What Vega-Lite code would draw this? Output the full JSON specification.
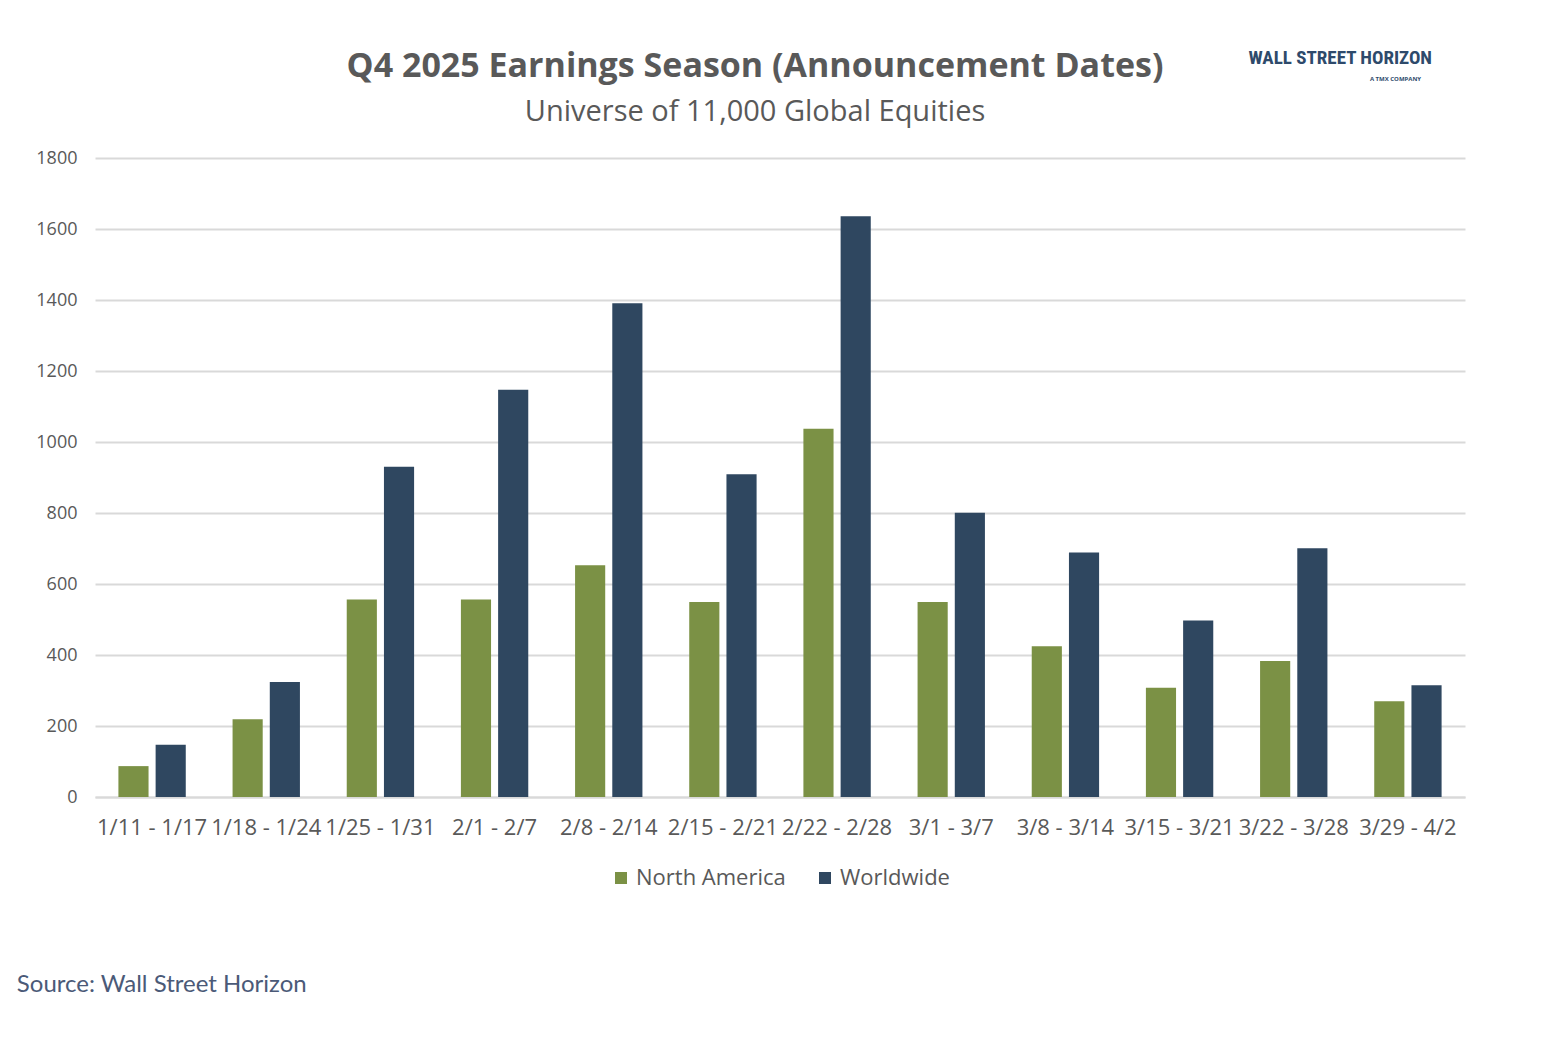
{
  "$schema": "https://vega.github.io/schema/vega-lite/v6.json",
  "background": "white",
  "padding": {"left": 16, "top": 48, "right": 10, "bottom": 10},
  "title": {
    "text": "Source: Wall Street Horizon",
    "orient": "bottom",
    "anchor": "start",
    "dx": -19,
    "offset": 84,
    "font": "Lato",
    "fontSize": 24,
    "fontWeight": "normal",
    "color": "#4b5a78"
  },
  "vconcat": [
    {
      "width": 1370,
      "height": 639,
      "title": {
        "text": "Q4 2025 Earnings Season (Announcement Dates)",
        "subtitle": "Universe of 11,000 Global Equities",
        "anchor": "middle",
        "dx": -25,
        "offset": -79,
        "font": "Open Sans",
        "fontSize": 34,
        "fontWeight": "bold",
        "color": "#595959",
        "subtitleFont": "Open Sans",
        "subtitleFontSize": 29,
        "subtitleColor": "#595959",
        "subtitlePadding": 14
      },
      "data": {
        "values": [
          {"week": "1/11 - 1/17", "region": "North America", "count": 87},
          {"week": "1/11 - 1/17", "region": "Worldwide", "count": 147},
          {"week": "1/18 - 1/24", "region": "North America", "count": 219},
          {"week": "1/18 - 1/24", "region": "Worldwide", "count": 324},
          {"week": "1/25 - 1/31", "region": "North America", "count": 556},
          {"week": "1/25 - 1/31", "region": "Worldwide", "count": 930},
          {"week": "2/1 - 2/7", "region": "North America", "count": 556},
          {"week": "2/1 - 2/7", "region": "Worldwide", "count": 1147},
          {"week": "2/8 - 2/14", "region": "North America", "count": 653},
          {"week": "2/8 - 2/14", "region": "Worldwide", "count": 1391},
          {"week": "2/15 - 2/21", "region": "North America", "count": 549},
          {"week": "2/15 - 2/21", "region": "Worldwide", "count": 909},
          {"week": "2/22 - 2/28", "region": "North America", "count": 1037},
          {"week": "2/22 - 2/28", "region": "Worldwide", "count": 1636},
          {"week": "3/1 - 3/7", "region": "North America", "count": 549},
          {"week": "3/1 - 3/7", "region": "Worldwide", "count": 801},
          {"week": "3/8 - 3/14", "region": "North America", "count": 425},
          {"week": "3/8 - 3/14", "region": "Worldwide", "count": 689},
          {"week": "3/15 - 3/21", "region": "North America", "count": 308},
          {"week": "3/15 - 3/21", "region": "Worldwide", "count": 497},
          {"week": "3/22 - 3/28", "region": "North America", "count": 383},
          {"week": "3/22 - 3/28", "region": "Worldwide", "count": 701},
          {"week": "3/29 - 4/2", "region": "North America", "count": 270},
          {"week": "3/29 - 4/2", "region": "Worldwide", "count": 315}
        ]
      },
      "mark": {"type": "bar"},
      "encoding": {
        "x": {
          "field": "week",
          "type": "nominal",
          "sort": null,
          "scale": {"paddingInner": 0.41, "paddingOuter": 0.205},
          "axis": {
            "labelAngle": 0,
            "labelFont": "Open Sans",
            "labelFontSize": 22,
            "labelColor": "#595959",
            "labelPadding": 20,
            "ticks": false,
            "domainColor": "#d9d9d9",
            "domainWidth": 2,
            "title": "A TMX COMPANY",
            "titleFont": "Open Sans",
            "titleFontSize": 6,
            "titleFontWeight": "bold",
            "titleColor": "#2e4a6b",
            "titleX": 1300,
            "titleY": -719,
            "titleAlign": "center",
            "titleBaseline": "middle"
          }
        },
        "xOffset": {
          "field": "region",
          "type": "nominal",
          "sort": ["North America", "Worldwide"],
          "scale": {"paddingInner": 0.19}
        },
        "y": {
          "field": "count",
          "type": "quantitative",
          "scale": {"domain": [0, 1800]},
          "axis": {
            "values": [0, 200, 400, 600, 800, 1000, 1200, 1400, 1600, 1800],
            "format": "d",
            "labelFont": "Open Sans",
            "labelFontSize": 18,
            "labelColor": "#595959",
            "labelPadding": 18,
            "ticks": false,
            "domain": false,
            "gridColor": "#d9d9d9",
            "gridWidth": 2,
            "title": "WALL STREET HORIZON",
            "titleFont": "Roboto Condensed",
            "titleFontSize": 19,
            "titleFontWeight": "bold",
            "titleColor": "#2e4a6b",
            "titleAngle": 0,
            "titleX": 1153,
            "titleY": -101,
            "titleAlign": "left",
            "titleBaseline": "middle"
          }
        },
        "color": {
          "field": "region",
          "type": "nominal",
          "sort": ["North America", "Worldwide"],
          "scale": {"domain": ["North America", "Worldwide"], "range": ["#7b9145", "#2f4760"]},
          "legend": {
            "orient": "bottom",
            "direction": "horizontal",
            "title": null,
            "symbolType": "square",
            "symbolSize": 144,
            "symbolStrokeWidth": 0,
            "labelFont": "Open Sans",
            "labelFontSize": 22,
            "labelColor": "#595959",
            "labelOffset": 4,
            "columnPadding": 28,
            "offset": 29
          }
        }
      }
    }
  ],
  "config": {
    "view": {"stroke": null},
    "legend": {"layout": {"bottom": {"anchor": "middle"}}}
  }
}
